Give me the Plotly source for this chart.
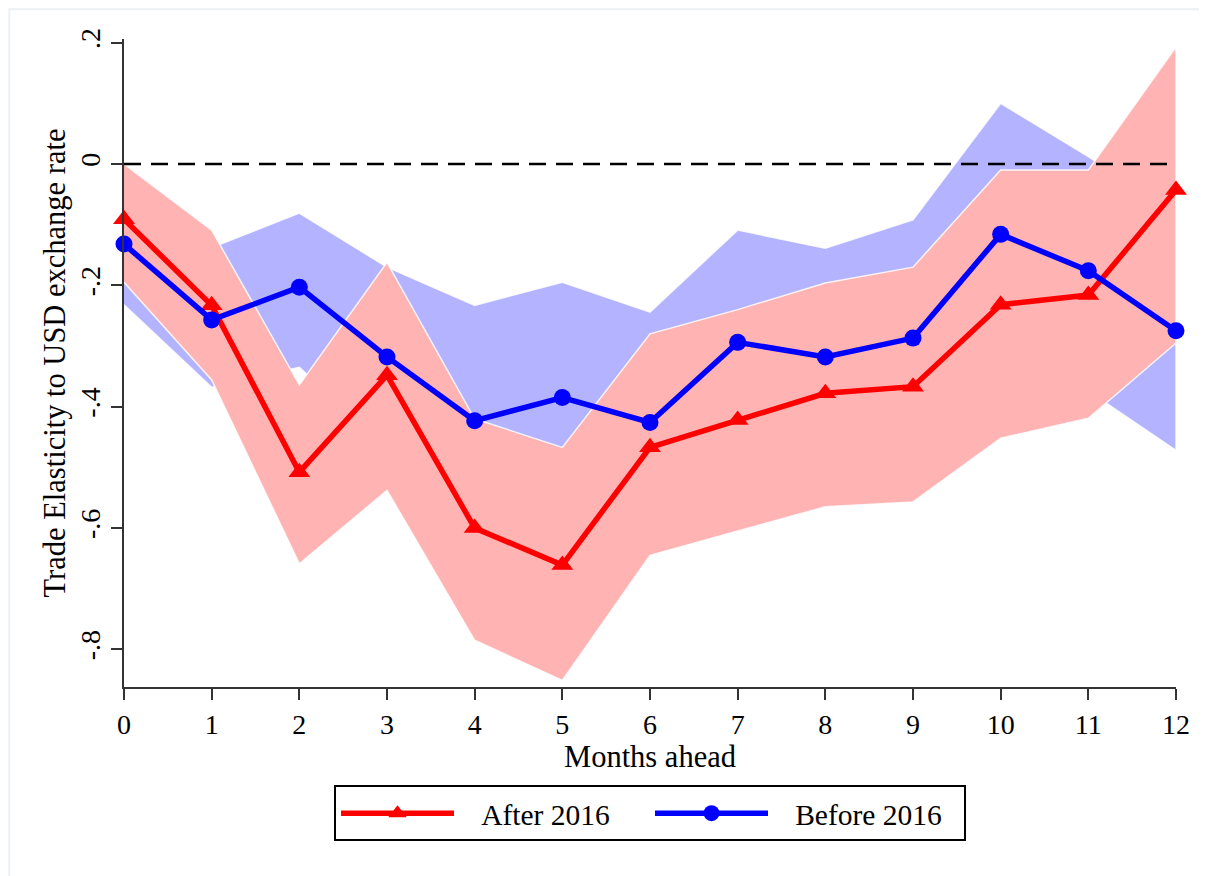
import numpy as np
import plotly.graph_objects as go

months = list(range(13))

# point estimates
after_2016 = [-0.091, -0.233, -0.508, -0.348, -0.600, -0.661, -0.467, -0.422, -0.378, -0.367, -0.232, -0.216, -0.043]
before_2016 = [-0.132, -0.257, -0.203, -0.318, -0.423, -0.385, -0.426, -0.294, -0.318, -0.287, -0.116, -0.176, -0.275]

# confidence bands
after_hi = [0.000, -0.109, -0.364, -0.162, -0.420, -0.467, -0.280, -0.240, -0.196, -0.170, -0.010, -0.010, 0.193]
after_lo = [-0.195, -0.356, -0.659, -0.538, -0.785, -0.851, -0.645, -0.605, -0.565, -0.557, -0.452, -0.419, -0.295]
before_hi = [-0.040, -0.138, -0.081, -0.170, -0.233, -0.195, -0.244, -0.109, -0.139, -0.092, 0.100, 0.012, -0.080]
before_lo = [-0.232, -0.368, -0.335, -0.470, -0.610, -0.580, -0.610, -0.480, -0.500, -0.480, -0.330, -0.374, -0.472]

y_ticks = [0.2, 0, -0.2, -0.4, -0.6, -0.8]
y_ticktext = [".2", "0", "-.2", "-.4", "-.6", "-.8"]

FONT = "Liberation Serif"
PAD = "\u00a0\u00a0\u00a0"  # gap between legend key and label, like Stata


def band(x, lo, hi, color):
    xs = np.concatenate([x, x[::-1]])
    ys = np.concatenate([hi, lo[::-1]])
    return go.Scatter(x=xs, y=ys, fill="toself", fillcolor=color, mode="lines",
                      line=dict(color="rgba(255,255,255,0.85)", width=1.5),
                      hoverinfo="skip", showlegend=False)


x = np.array(months)
fig = go.Figure()
fig.add_trace(band(x, np.array(before_lo), np.array(before_hi), "#B3B3FF"))
fig.add_trace(band(x, np.array(after_lo), np.array(after_hi), "#FFB3B3"))

fig.add_trace(go.Scatter(x=months, y=after_2016, name=PAD + "After 2016", mode="lines+markers",
                         line=dict(color="#FF0000", width=5.5),
                         marker=dict(symbol="triangle-up", size=19, color="#FF0000"),
                         cliponaxis=False))
fig.add_trace(go.Scatter(x=months, y=before_2016, name=PAD + "Before 2016", mode="lines+markers",
                         line=dict(color="#0000FF", width=5.5),
                         marker=dict(symbol="circle", size=17, color="#0000FF"),
                         cliponaxis=False))

# zero reference line
fig.add_shape(type="line", xref="x", yref="y", x0=months[0], x1=months[-1], y0=0, y1=0,
              line=dict(color="black", width=2.5, dash="17px,10px"))
# faint outer graph region frame
fig.add_shape(type="rect", xref="paper", yref="paper", x0=-0.109, x1=1.028, y0=-0.31, y1=1.046,
              line=dict(color="#EAF0F3", width=2), layer="below")

fig.update_layout(
    width=1207, height=876,
    margin=dict(l=116, r=39, t=31, b=197),
    plot_bgcolor="white", paper_bgcolor="white",
    font=dict(family=FONT, size=28, color="black"),
    showlegend=True,
    legend=dict(orientation="h", x=0.5, xanchor="center", y=-0.152, yanchor="top",
                bordercolor="black", borderwidth=2, font=dict(size=29.5),
                entrywidth=186, itemwidth=113),
    xaxis=dict(range=[0, 12], tickvals=months, showline=True, linecolor="#333333", linewidth=2,
               ticks="outside", ticklen=11, tickwidth=2, tickcolor="#333333",
               showgrid=False, zeroline=False,
               title=dict(text="Months ahead", font=dict(size=30.5), standoff=0)),
    yaxis=dict(range=[-0.862, 0.206], tickvals=y_ticks, ticktext=y_ticktext, tickangle=-90,
               showline=True, linecolor="#333333", linewidth=2,
               ticks="outside", ticklen=11, tickwidth=2, tickcolor="#333333",
               showgrid=False, zeroline=False,
               title=dict(text="Trade Elasticity to USD exchange rate", font=dict(size=30.5), standoff=0)),
)

fig.write_html("out.html")
